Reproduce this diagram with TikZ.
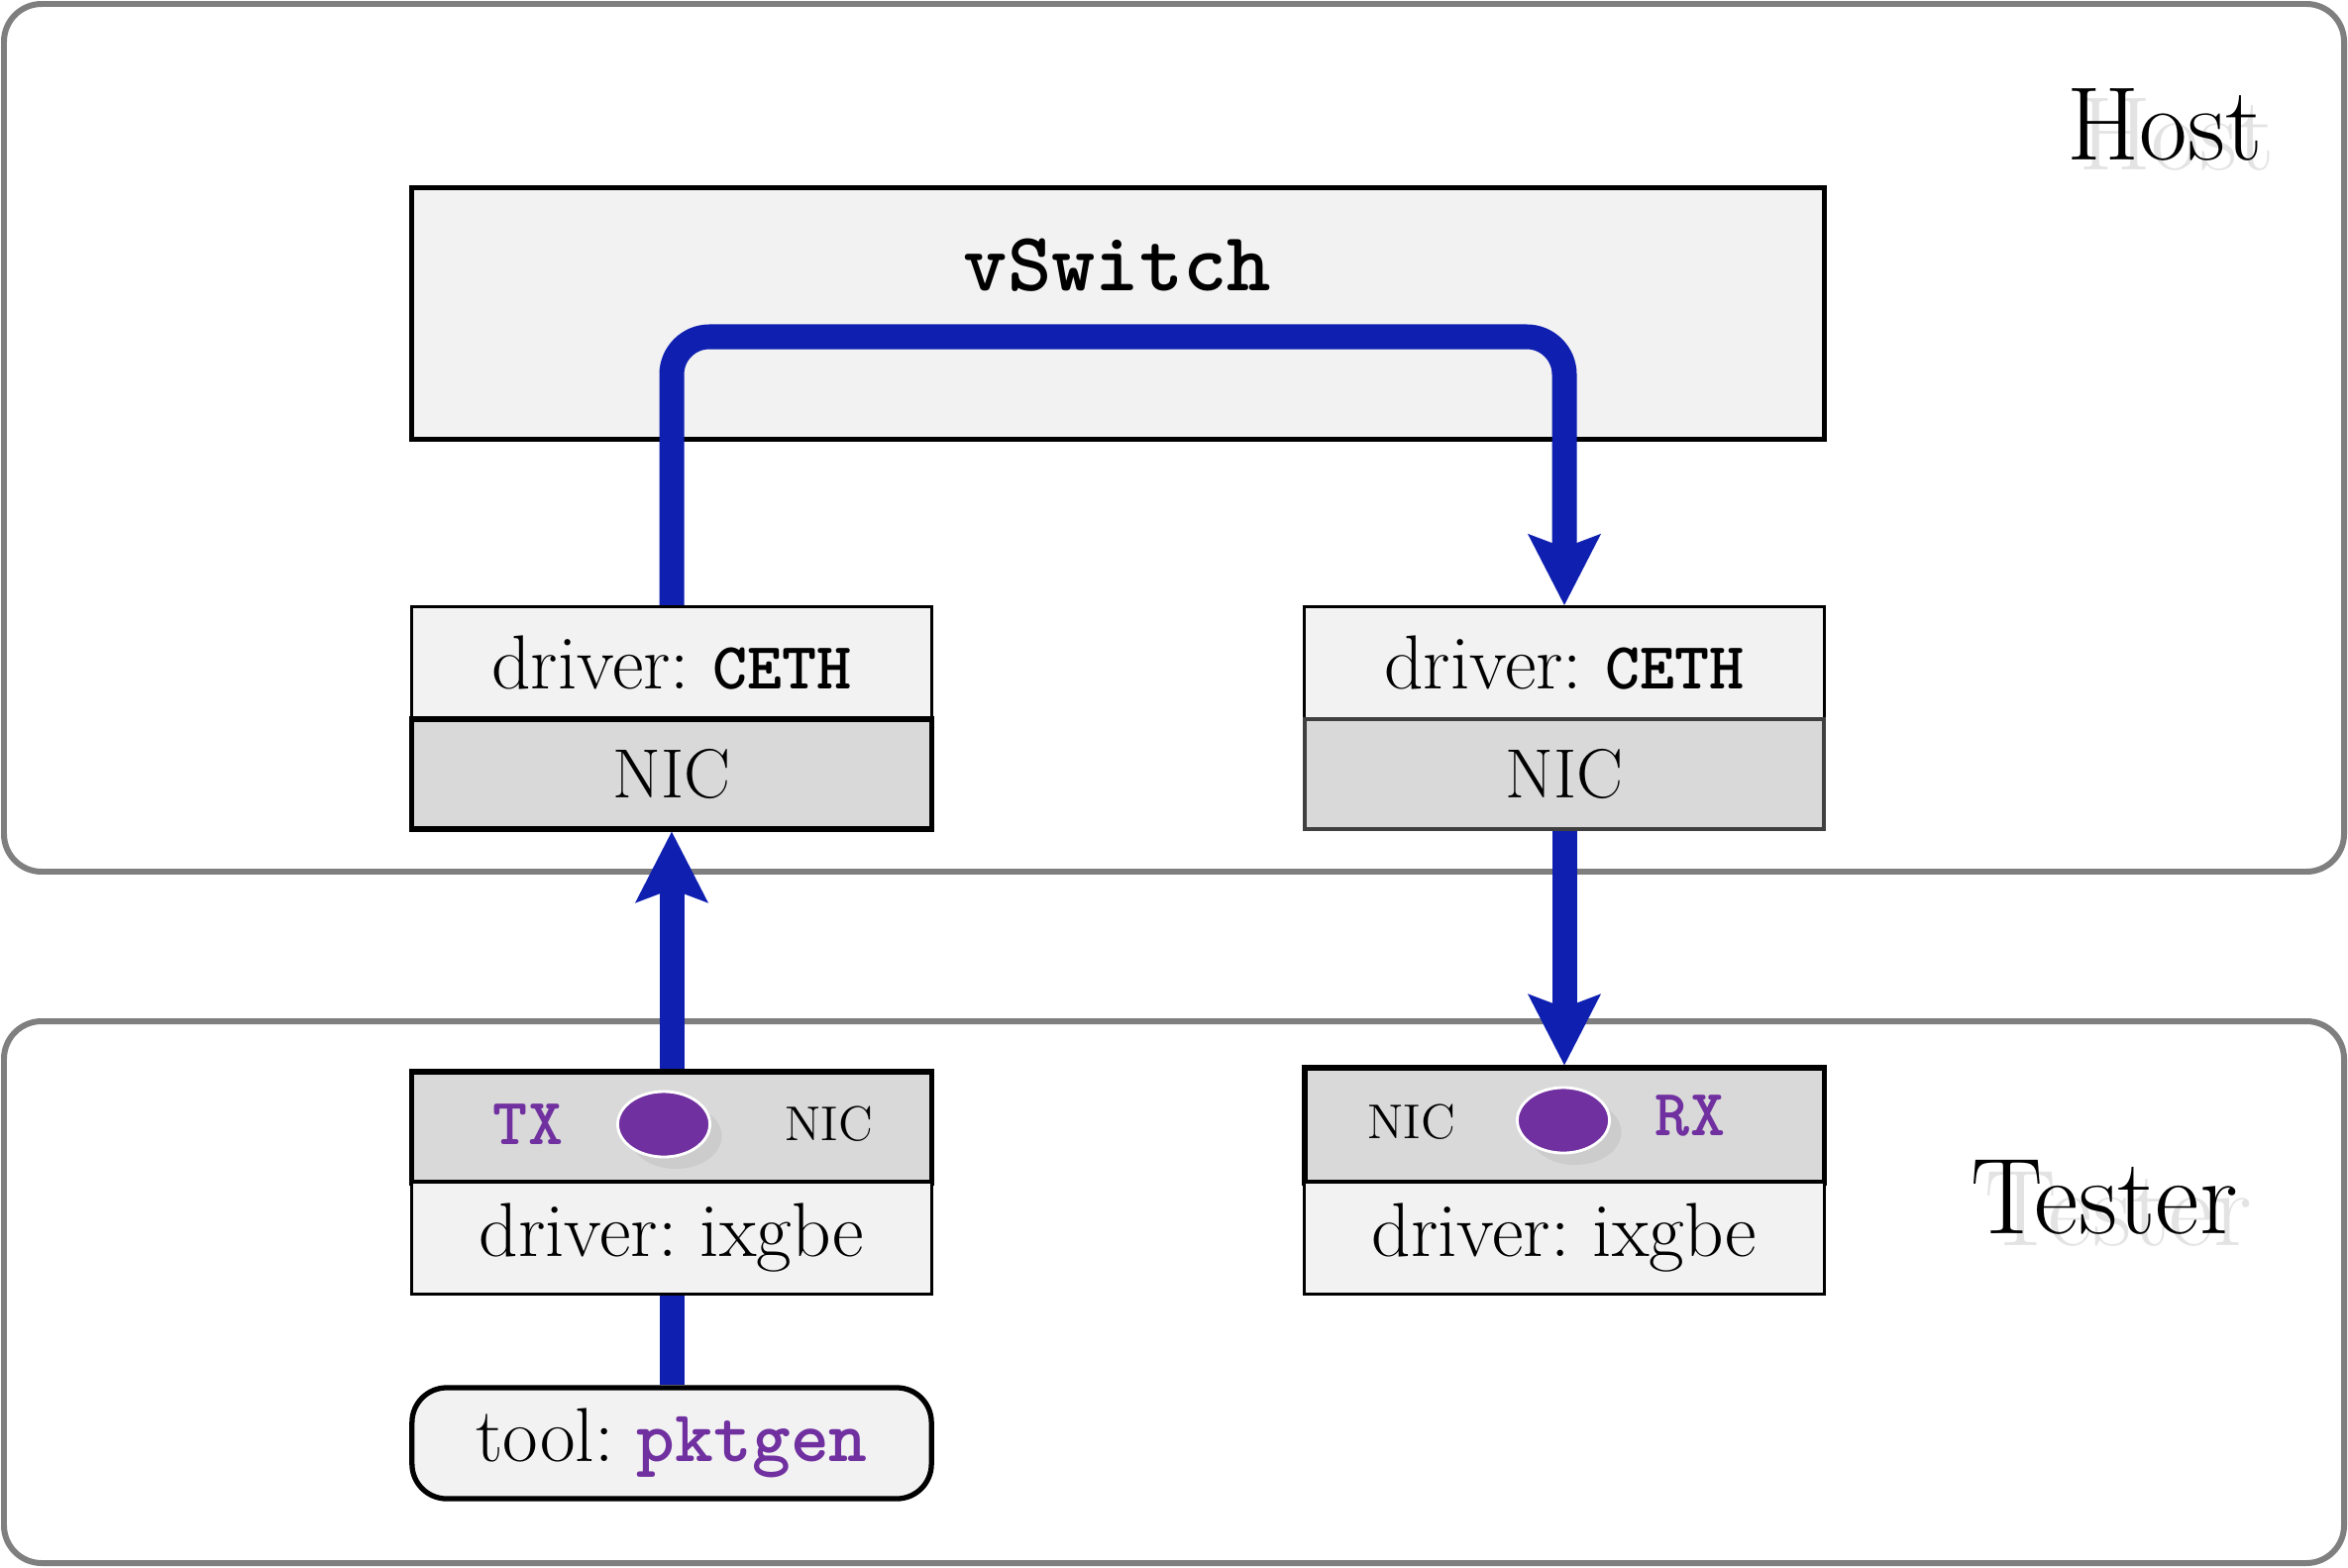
\documentclass[tikz,border=0pt]{standalone}
\usepackage{fontspec}
\usetikzlibrary{arrows.meta,shadows,shapes.geometric}
\definecolor{flowblue}{HTML}{0F20B0}
\definecolor{purp}{HTML}{7030A0}
\definecolor{lightbox}{HTML}{F2F2F2}
\definecolor{nicfill}{HTML}{D9D9D9}
\definecolor{framegray}{HTML}{7F7F7F}
\definecolor{ghost}{HTML}{E3E3E3}
\definecolor{shade}{HTML}{CCCCCC}
\newcommand{\fsz}[1]{\fontsize{#1}{#1}\selectfont}
\newcommand{\codeb}[1]{{\ttfamily\bfseries #1}}
\frenchspacing
\begin{document}
\begin{tikzpicture}[x=0.01cm,y=-0.01cm,
 region/.style={draw=framegray,line width=1.7pt,rounded corners=0.38cm},
 drvbox/.style={draw=black,fill=lightbox,line width=0.9pt,minimum width=5.24cm,minimum height=1.13cm,inner sep=0pt,font=\fsz{22pt}},
 nicbox/.style={draw=black,fill=nicfill,line width=1.5pt,minimum width=5.24cm,minimum height=1.11cm,inner sep=0pt,font=\fsz{20pt}},
 flow/.style={draw=flowblue,line width=0.25cm},
 tipped/.style={-{Stealth[length=0.72cm,width=0.74cm,inset=0.14cm,line width=0pt]}},
 port/.style={ellipse,fill=purp,draw=white,line width=0.8pt,minimum width=0.93cm,minimum height=0.66cm,inner sep=0pt,
   drop shadow={shadow xshift=0.12cm,shadow yshift=-0.12cm,fill=shade,opacity=1}},
 portlbl/.style={font=\fsz{19pt}\ttfamily\bfseries,text=purp,inner sep=0pt},
 smalllbl/.style={font=\fsz{14pt},inner sep=0pt},
 biglbl/.style={inner sep=0pt,anchor=base},
]
\useasboundingbox (0,0) rectangle (2370,1582);
\fill[white] (0,0) rectangle (2370,1582);

% regions
\draw[region] (4,4) rectangle (2366,880);
\draw[region] (4,1031) rectangle (2366,1578);

\node[biglbl,font=\fsz{30pt},text=ghost] (hostghost) at (2197,172) {Host};
\node[biglbl,font=\fsz{30pt}] (host) at (2185,162) {Host};
\node[biglbl,font=\fsz{31pt},text=ghost] (testerghost) at (2138,1257) {Tester};
\node[biglbl,font=\fsz{31pt}] (tester) at (2124,1245) {Tester};

% vSwitch
\node[draw=black,fill=lightbox,line width=1.4pt,minimum width=14.25cm,minimum height=2.53cm,inner sep=0pt] (vs) at (1128.5,316.5) {};
\node[font=\fsz{24pt}\ttfamily\bfseries,anchor=base,inner sep=0pt] (vslbl) at (1128,293) {vSwitch};

% host side
\node[drvbox] (ldrv) at (678,669) {driver: {\fsz{19pt}\codeb{CETH}}};
\node[nicbox] (lnic) at (678,781.5) {NIC};
\node[drvbox] (rdrv) at (1579,669) {driver: {\fsz{19pt}\codeb{CETH}}};
\node[nicbox,draw=black!75,line width=1.1pt] (rnic) at (1579,781.5) {NIC};

% tester side
\node[nicbox,minimum height=1.12cm] (ltnic) at (678,1138) {};
\node[drvbox] (ltdrv) at (678,1250) {driver: ixgbe};
\node[nicbox,minimum height=1.16cm] (rtnic) at (1579,1136) {};
\node[drvbox] (rtdrv) at (1579,1250) {driver: ixgbe};
\node[drvbox,line width=1.5pt,rounded corners=0.35cm,minimum height=1.12cm] (tool) at (678,1457) {tool: {\color{purp}\fsz{21pt}\codeb{pktgen}}};

\node[portlbl] (tx) at (533,1135) {TX};
\node[port] (lport) at (670,1135) {};
\node[smalllbl] (lniclbl) at (837,1135) {NIC};
\node[smalllbl] (rniclbl) at (1425,1133) {NIC};
\node[port] (rport) at (1578,1131) {};
\node[portlbl] (rx) at (1706,1126) {RX};

% flows
\coordinate (top) at (0,340);
\draw[flow,tipped,rounded corners=0.38cm] (ldrv.north) -- (ldrv.north |- top) -- (rdrv.north |- top) -- (rdrv.north);
\draw[flow,tipped] (ltnic.north) -- (lnic.south);
\draw[flow,tipped] (rnic.south) -- (rtnic.north);
\draw[flow] (tool.north) -- (ltdrv.south);
\end{tikzpicture}
\end{document}
